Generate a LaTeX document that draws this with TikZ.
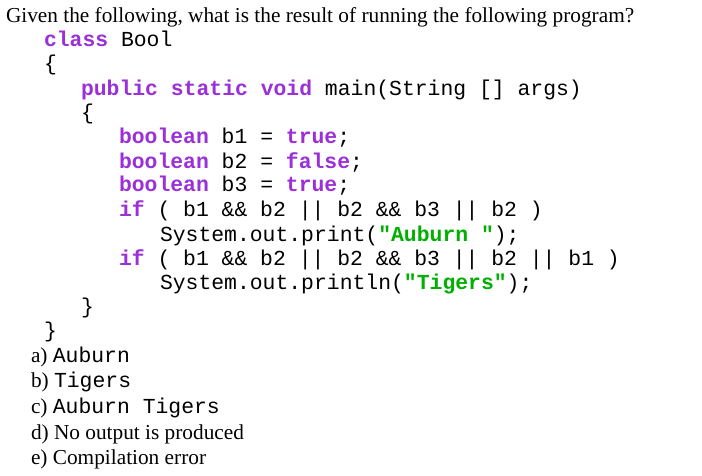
\documentclass[tikz,border=0pt]{standalone}
\usepackage{fontspec}
\setmainfont{Liberation Serif}
\setmonofont{Liberation Mono}
\definecolor{kw}{HTML}{9B30D8}
\definecolor{str}{HTML}{00B000}
\newcommand{\K}[1]{\textbf{\textcolor{kw}{#1}}}
\newcommand{\St}[1]{\textbf{\textcolor{str}{#1}}}
\tikzset{
  ln/.style={anchor=base west,inner sep=0pt,outer sep=0pt},
  code/.style={ln,font=\fontsize{21.4}{24}\selectfont\ttfamily},
  prose/.style={ln,font=\fontsize{21.3}{24}\selectfont\rmfamily},
}
\begin{document}
\begin{tikzpicture}[x=1pt,y=-1pt]
\useasboundingbox[fill=white] (0,0) rectangle (702,476);
\node[prose] (l1) at (6,23) {Given the following, what is the result of running the following program?};
\node[code] (l2) at (44,47) {\K{class} Bool};
\node[code] (l3) at (44,71) {\{};
\node[code] (l4) at (81,96) {\K{public} \K{static} \K{void} main(String [] args)};
\node[code] (l5) at (81,120) {\{};
\node[code] (l6) at (119,144) {\K{boolean} b1 = \K{true};};
\node[code] (l7) at (119,168) {\K{boolean} b2 = \K{false};};
\node[code] (l8) at (119,192) {\K{boolean} b3 = \K{true};};
\node[code] (l9) at (119,216) {\K{if} ( b1 \&\& b2 || b2 \&\& b3 || b2 )};
\node[code] (l10) at (160,241) {System.out.print(\St{"Auburn "});};
\node[code] (l11) at (119,265) {\K{if} ( b1 \&\& b2 || b2 \&\& b3 || b2 || b1 )};
\node[code] (l12) at (160,289) {System.out.println(\St{"Tigers"});};
\node[code] (l13) at (81,313) {\}};
\node[code] (l14) at (44,337) {\}};
\node[prose] (oa) at (31,362) {a) {\fontsize{21.4}{24}\selectfont\ttfamily Auburn}};
\node[prose] (ob) at (31,387) {b) {\fontsize{21.4}{24}\selectfont\ttfamily Tigers}};
\node[prose] (oc) at (31,413) {c) {\fontsize{21.4}{24}\selectfont\ttfamily Auburn Tigers}};
\node[prose] (od) at (31,439) {d) No output is produced};
\node[prose] (oe) at (31,464) {e) Compilation error};
\end{tikzpicture}
\end{document}
